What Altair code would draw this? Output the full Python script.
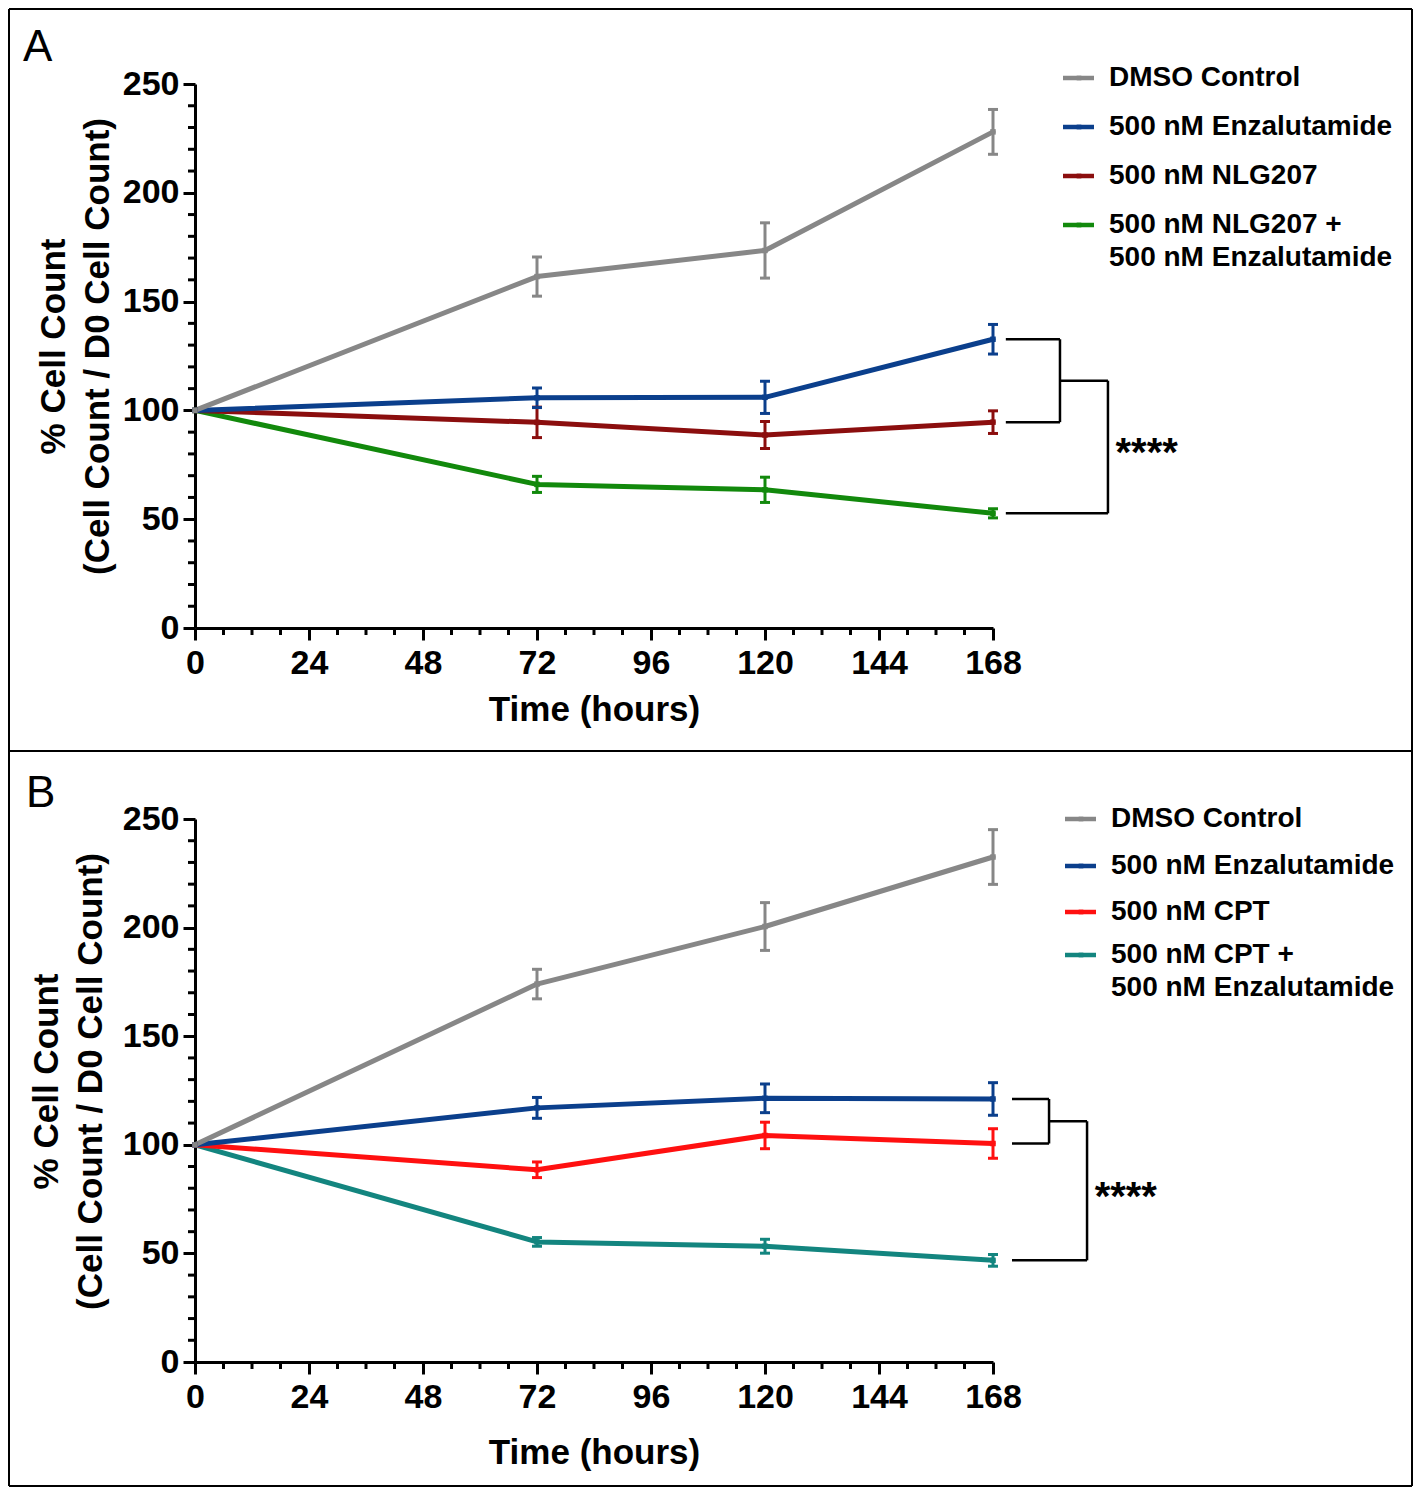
import altair as alt
import pandas as pd

FONT = "Liberation Sans"

TIME_H = [0, 72, 120, 168]
X_TICKS = [0, 24, 48, 72, 96, 120, 144, 168]
X_MINOR = [6, 12, 18, 30, 36, 42, 54, 60, 66, 78, 84, 90, 102, 108, 114, 126, 132, 138, 150, 156, 162]
Y_TICKS = [0, 50, 100, 150, 200, 250]
Y_MINOR = [10, 20, 30, 40, 60, 70, 80, 90, 110, 120, 130, 140, 160, 170, 180, 190, 210, 220, 230, 240]

# ---- Panel A ----
A_NAMES = ["DMSO Control", "500 nM Enzalutamide", "500 nM NLG207",
           "500 nM NLG207 +\n500 nM Enzalutamide"]
A_COLORS = ["#878787", "#0b3f8c", "#8b0e0e", "#12890c"]
A_DMSO = [100, 161.5, 173.5, 228.0]
A_DMSO_ERR = [0, 9.0, 12.7, 10.3]
A_ENZ = [100, 105.8, 106.0, 132.7]
A_ENZ_ERR = [0, 4.5, 7.4, 6.8]
A_NLG = [100, 94.5, 88.7, 94.6]
A_NLG_ERR = [0, 7.0, 6.2, 5.2]
A_COMBO = [100, 66.0, 63.5, 52.7]
A_COMBO_ERR = [0, 3.7, 5.8, 2.1]

# ---- Panel B ----
B_NAMES = ["DMSO Control", "500 nM Enzalutamide", "500 nM CPT",
           "500 nM CPT +\n500 nM Enzalutamide"]
B_COLORS = ["#878787", "#0b3f8c", "#ff1010", "#13857f"]
B_DMSO = [100, 174.0, 200.5, 232.5]
B_DMSO_ERR = [0, 6.8, 11.0, 12.6]
B_ENZ = [100, 117.0, 121.4, 121.1]
B_ENZ_ERR = [0, 4.8, 6.6, 7.5]
B_CPT = [100, 88.5, 104.3, 100.6]
B_CPT_ERR = [0, 3.6, 6.1, 6.8]
B_COMBO = [100, 55.3, 53.3, 46.8]
B_COMBO_ERR = [0, 2.0, 3.2, 2.7]

STARS = "****"
W = 798


def one():
    return pd.DataFrame({"k": [0]})


def panel(letter, names, colors, means, errs, H, letter_x, letter_y, ytitle_x,
          xtitle_y, legend_rows, legend_x, bracket_x, frame_top, frame_bottom,
          top_rule):
    rows = []
    for k in reversed(range(len(names))):
        for t, m, e in zip(TIME_H, means[k], errs[k]):
            rows.append(dict(series=names[k], time=t, mean=m, lo=m - e, hi=m + e))
    df = pd.DataFrame(rows)

    xs = alt.Scale(domain=[0, 168], nice=False, zero=False)
    ys = alt.Scale(domain=[0, 250], nice=False)
    color = alt.Color("series:N", scale=alt.Scale(domain=names, range=colors), legend=None)

    x_axis = alt.Axis(values=X_TICKS, title="Time (hours)", grid=False,
                      tickSize=12, tickWidth=3, tickColor="black",
                      domainColor="black", domainWidth=3,
                      labelFont=FONT, labelFontSize=34, labelFontWeight="bold",
                      labelColor="black", labelPadding=6, labelFlush=False,
                      labelOverlap=False,
                      titleFont=FONT, titleFontSize=35, titleFontWeight="bold",
                      titleColor="black", titleY=xtitle_y, titleBaseline="middle")
    y_axis = alt.Axis(values=Y_TICKS, title=["% Cell Count", "(Cell Count / D0 Cell Count)"],
                      grid=False, tickSize=12, tickWidth=3, tickColor="black",
                      domainColor="black", domainWidth=3,
                      labelFont=FONT, labelFontSize=34, labelFontWeight="bold",
                      labelColor="black", labelPadding=4, labelFlush=False,
                      labelOverlap=False,
                      titleFont=FONT, titleFontSize=35, titleFontWeight="bold",
                      titleColor="black", titleAngle=270, titleX=ytitle_x, titleY=262,
                      titleAlign="center", titleBaseline="middle", titleLineHeight=44)

    def X(f):
        return alt.X(f, scale=xs, axis=x_axis)

    def Y(f):
        return alt.Y(f, scale=ys, axis=y_axis)

    layers = []
    base = alt.Chart(df)
    layers.append(base.mark_line(strokeWidth=5, strokeCap="round", strokeJoin="round").encode(
        x=X("time:Q"), y=Y("mean:Q"), color=color))

    # frame
    fl, fr = -186, 1217
    segs = [(fl, fl, frame_top, frame_bottom), (fr, fr, frame_top, frame_bottom),
            (fl, fr, frame_bottom, frame_bottom)]
    if top_rule:
        segs.append((fl, fr, frame_top, frame_top))
    for (a, b, c, d) in segs:
        layers.append(alt.Chart(one()).mark_rule(color="black", strokeWidth=2).encode(
            x=alt.value(a), x2=alt.value(b), y=alt.value(c), y2=alt.value(d)))

    # minor ticks
    layers.append(alt.Chart(pd.DataFrame({"time": X_MINOR})).mark_rule(
        color="black", strokeWidth=3).encode(
        x=X("time:Q"), y=alt.value(H), y2=alt.value(H + 7)))
    layers.append(alt.Chart(pd.DataFrame({"mean": Y_MINOR})).mark_rule(
        color="black", strokeWidth=3).encode(
        y=Y("mean:Q"), x=alt.value(0), x2=alt.value(-7)))

    eb = base.transform_filter("datum.time > 0")
    layers.append(eb.mark_rule(strokeWidth=3).encode(
        x=X("time:Q"), y=Y("lo:Q"), y2="hi:Q", color=color))
    layers.append(eb.transform_fold(["lo", "hi"], as_=["end", "val"]).mark_tick(
        orient="horizontal", size=10, thickness=3, opacity=1).encode(
        x=X("time:Q"), y=Y("val:Q"), color=color))
    layers.append(base.mark_square(size=30, opacity=1).encode(
        x=X("time:Q"), y=Y("mean:Q"), color=color))

    # significance brackets
    top, mid, bot = means[1][-1], means[2][-1], means[3][-1]
    x0, x1, x2 = bracket_x
    m = (top + mid) / 2
    br = pd.DataFrame([
        dict(x=x0, x2=x1, y=top, y2=top),
        dict(x=x0, x2=x1, y=mid, y2=mid),
        dict(x=x1, x2=x1, y=top, y2=mid),
        dict(x=x1, x2=x2, y=m, y2=m),
        dict(x=x2, x2=x2, y=m, y2=bot),
        dict(x=x0, x2=x2, y=bot, y2=bot),
    ])
    layers.append(alt.Chart(br).mark_rule(color="black", strokeWidth=2.5).encode(
        x=X("x:Q"), x2="x2:Q", y=Y("y:Q"), y2="y2:Q"))
    st = pd.DataFrame({"x": [x2 + 1.6], "y": [(m + bot) / 2], "s": [STARS]})
    layers.append(alt.Chart(st).mark_text(font=FONT, fontSize=40, fontWeight="bold",
                                          align="left", baseline="middle", dy=7,
                                          color="black").encode(
        x=X("x:Q"), y=Y("y:Q"), text="s:N"))

    # legend
    for name, col, ry in zip(names, colors, legend_rows):
        layers.append(alt.Chart(one()).mark_rule(strokeWidth=4.5, color=col).encode(
            x=alt.value(legend_x), x2=alt.value(legend_x + 31),
            y=alt.value(ry), y2=alt.value(ry)))
        layers.append(alt.Chart(one()).mark_square(size=22, opacity=1, color=col).encode(
            x=alt.value(legend_x + 16), y=alt.value(ry)))
        for j, line in enumerate(name.split("\n")):
            layers.append(alt.Chart(one()).mark_text(
                font=FONT, fontSize=28, fontWeight="bold", align="left",
                baseline="middle", color="black").encode(
                x=alt.value(legend_x + 46), y=alt.value(ry + 33 * j),
                text=alt.value(line)))

    layers.append(alt.Chart(one()).mark_text(
        font=FONT, fontSize=44, align="left", baseline="alphabetic", color="black").encode(
        x=alt.value(letter_x), y=alt.value(letter_y), text=alt.value(letter)))

    return alt.layer(*layers).properties(width=W, height=H)


pA = panel("A", A_NAMES, A_COLORS, [A_DMSO, A_ENZ, A_NLG, A_COMBO],
           [A_DMSO_ERR, A_ENZ_ERR, A_NLG_ERR, A_COMBO_ERR], 544,
           -172, -23, -142, 81, [-6, 43, 92, 141], 868, (170.7, 182.1, 192.2),
           -75, 667, True)
pB = panel("B", B_NAMES, B_COLORS, [B_DMSO, B_ENZ, B_CPT, B_COMBO],
           [B_DMSO_ERR, B_ENZ_ERR, B_CPT_ERR, B_COMBO_ERR], 543,
           -169, -12, -149, 90, [0, 47, 93, 136], 870, (172.0, 179.8, 187.8),
           -68, 667, False)

chart = (
    alt.vconcat(pA, pB, spacing=191, bounds="flush")
    .resolve_scale(color="independent")
    .properties(padding=0)
    .configure(font=FONT)
    .configure_view(strokeWidth=0)
)

chart.save("out.html", embed_options={"renderer": "svg", "actions": False})
